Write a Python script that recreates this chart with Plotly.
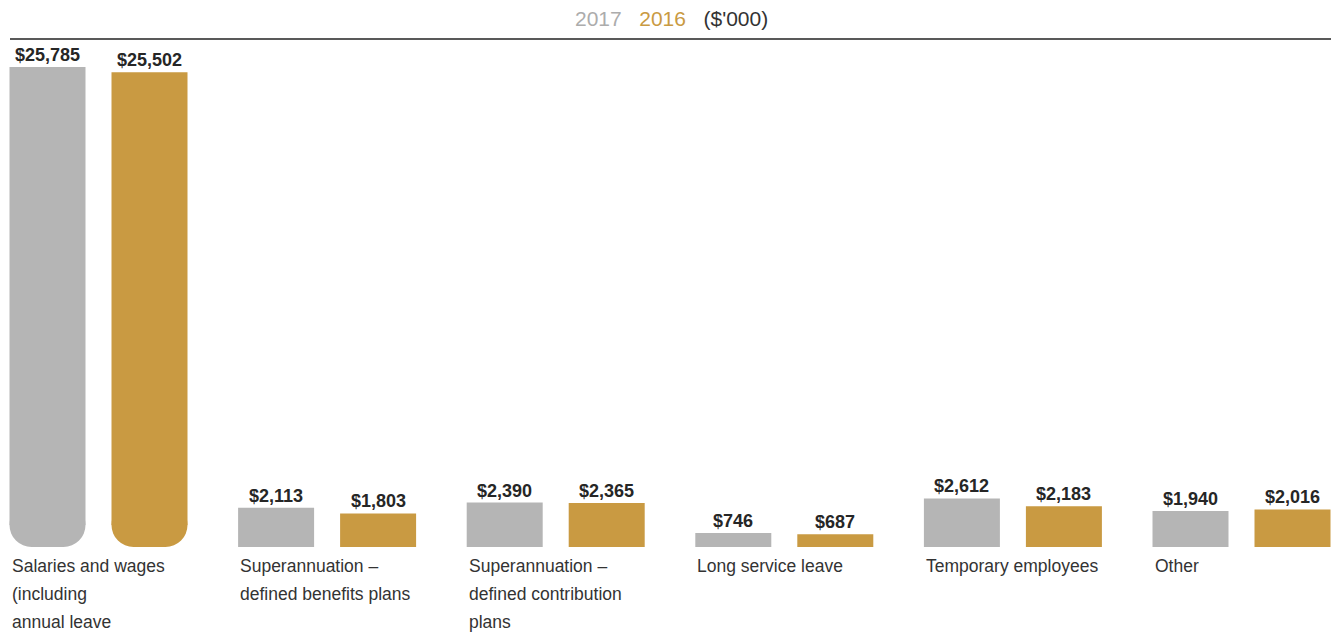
import plotly.graph_objects as go

# Employee expenses by type, $'000
categories = [
    "Salaries and wages",
    "Superannuation – defined benefits",
    "Superannuation – defined contribution",
    "Long service leave",
    "Temporary employees",
    "Other",
]
label_lines = [
    ["Salaries and wages", "(including", "annual leave"],
    ["Superannuation –", "defined benefits plans"],
    ["Superannuation –", "defined contribution", "plans"],
    ["Long service leave"],
    ["Temporary employees"],
    ["Other"],
]
values_2017 = [25785, 2113, 2390, 746, 2612, 1940]
values_2016 = [25502, 1803, 2365, 687, 2183, 2016]
series_names = ["2017", "2016"]

GRAY = "#b5b5b5"
GOLD = "#c99a42"
TEXT = "#262626"
FONT = "Liberation Sans, Arial, sans-serif"

W, H = 1331, 632
BASE_PX = 547          # pixel row of the zero line
TOP_PX = 67            # pixel row of the tallest bar
SLOT_PX = 228.6        # width of one category slot
FIRST_PX = 98.5        # centre of the first category slot
BAR_OFFSET = 51        # half distance between the two bars of a group
BAR_W = 76             # bar width in px
RADIUS_PX = 22         # rounding of the tall bars' bottom

vmax = max(values_2017 + values_2016)
per_px = vmax / (BASE_PX - TOP_PX)
y_range = [-(H - BASE_PX) * per_px, BASE_PX * per_px]
x_range = [-FIRST_PX / SLOT_PX, (W - FIRST_PX) / SLOT_PX]
r_val = RADIUS_PX * per_px

fig = go.Figure()

for name, vals, color, grp in [
    (series_names[0], values_2017, GRAY, "a"),
    (series_names[1], values_2016, GOLD, "b"),
]:
    # rounded foot under the first category's bar
    fig.add_trace(go.Bar(
        x=categories[:1], y=[-2 * r_val], base=[2 * r_val], offsetgroup=grp,
        marker=dict(color=color, line=dict(width=0), cornerradius=RADIUS_PX),
        hoverinfo="skip", showlegend=False,
    ))
    # main bars; the first one starts just above the rounded foot
    fig.add_trace(go.Bar(
        x=categories, y=[v - r_val if i == 0 else v for i, v in enumerate(vals)],
        base=[r_val if i == 0 else 0 for i in range(len(vals))],
        name=name, offsetgroup=grp,
        marker=dict(color=color, line=dict(width=0)),
        customdata=vals, hovertemplate="%{x}: $%{customdata:,}<extra>" + name + "</extra>",
    ))

annotations = []
# Value labels above each bar
for i, cat in enumerate(categories):
    for vals, shift in [(values_2017, -BAR_OFFSET), (values_2016, BAR_OFFSET)]:
        annotations.append(dict(
            x=cat, y=vals[i], xref="x", yref="y", xshift=shift, yshift=0,
            text=f"${vals[i]:,}", showarrow=False, xanchor="center", yanchor="bottom",
            font=dict(family=FONT, size=18, color=TEXT, weight="bold"),
        ))
    # Category labels, left aligned under the first bar
    for j, line in enumerate(label_lines[i]):
        annotations.append(dict(
            x=cat, y=0, xref="x", yref="y", xshift=-BAR_OFFSET - BAR_W / 2, yshift=-19 - 28 * j,
            text=line, showarrow=False, xanchor="left", yanchor="middle",
            font=dict(family=FONT, size=17.5, color="#333333"),
        ))

# Header with the series key
annotations.append(dict(
    x=671 / W, y=1 - 18 / H, xref="paper", yref="paper",
    text=(f"<span style='color:#acacac'>{series_names[0]}</span>   "
          f"<span style='color:{GOLD}'>{series_names[1]}</span>   "
          f"<span style='color:#333333'>($'000)</span>"),
    showarrow=False, xanchor="center", yanchor="middle",
    font=dict(family=FONT, size=21),
))

fig.update_layout(
    width=W, height=H,
    margin=dict(l=0, r=0, t=0, b=0),
    paper_bgcolor="white", plot_bgcolor="white",
    barmode="group", bargap=1 - 2 * BAR_OFFSET * 2 / SLOT_PX, bargroupgap=1 - BAR_W / (2 * BAR_OFFSET),
    showlegend=False,
    xaxis=dict(range=x_range, visible=False, fixedrange=True,
               categoryorder="array", categoryarray=categories),
    yaxis=dict(range=y_range, visible=False, fixedrange=True),
    annotations=annotations,
    shapes=[dict(type="line", xref="paper", yref="paper", x0=10 / W, x1=1, y0=1 - 39 / H, y1=1 - 39 / H,
                 line=dict(color="#222222", width=1.5))],
)

fig.write_html("out.html", config={"displayModeBar": False})
